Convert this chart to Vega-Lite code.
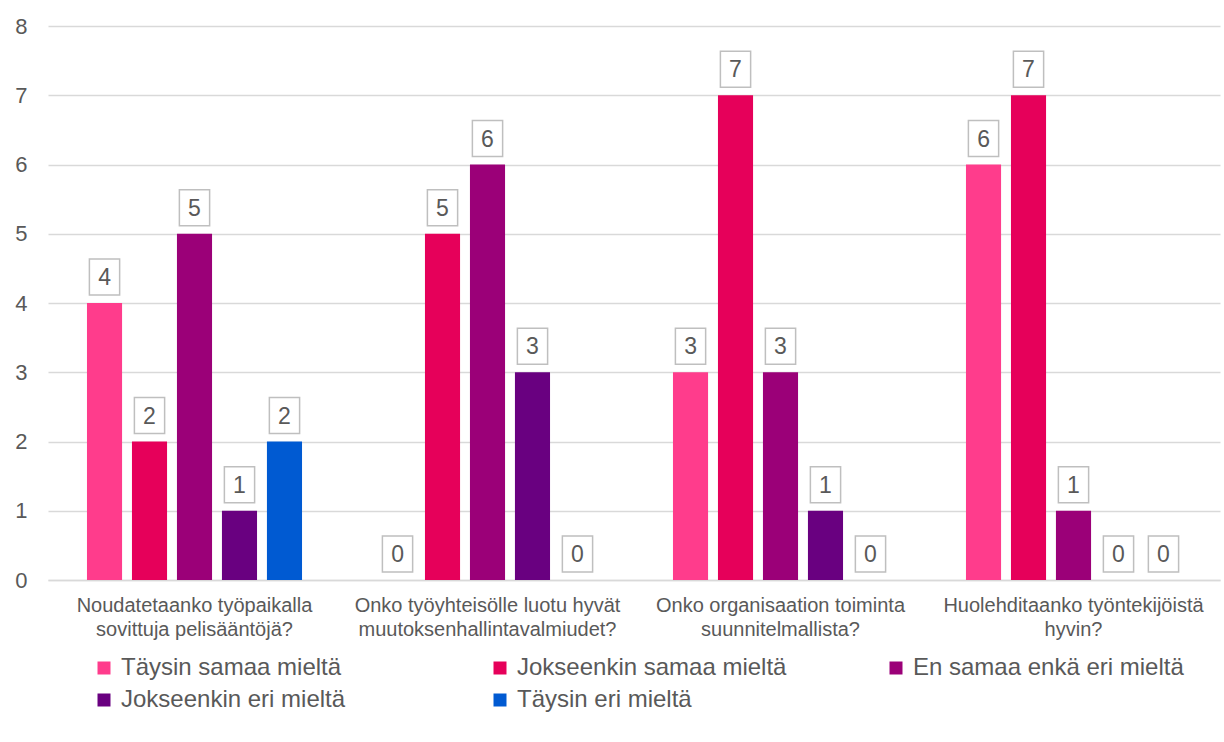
{
  "$schema": "https://vega.github.io/schema/vega-lite/v6.json",
  "width": 1172,
  "height": 554,
  "autosize": {"type": "none"},
  "padding": {"left": 48, "top": 26, "right": 4, "bottom": 162},
  "background": "white",
  "config": {
    "font": "Liberation Sans",
    "view": {"stroke": null},
    "axis": {"labelColor": "#595959", "labelFont": "Liberation Sans", "gridColor": "#d9d9d9", "domainColor": "#d9d9d9"}
  },
  "data": {
    "values": [
      {"kysymys": "Noudatetaanko työpaikalla sovittuja pelisääntöjä?", "vastaus": "Täysin samaa mieltä", "lkm": 4},
      {"kysymys": "Noudatetaanko työpaikalla sovittuja pelisääntöjä?", "vastaus": "Jokseenkin samaa mieltä", "lkm": 2},
      {"kysymys": "Noudatetaanko työpaikalla sovittuja pelisääntöjä?", "vastaus": "En samaa enkä eri mieltä", "lkm": 5},
      {"kysymys": "Noudatetaanko työpaikalla sovittuja pelisääntöjä?", "vastaus": "Jokseenkin eri mieltä", "lkm": 1},
      {"kysymys": "Noudatetaanko työpaikalla sovittuja pelisääntöjä?", "vastaus": "Täysin eri mieltä", "lkm": 2},
      {"kysymys": "Onko työyhteisölle luotu hyvät muutoksenhallintavalmiudet?", "vastaus": "Täysin samaa mieltä", "lkm": 0},
      {"kysymys": "Onko työyhteisölle luotu hyvät muutoksenhallintavalmiudet?", "vastaus": "Jokseenkin samaa mieltä", "lkm": 5},
      {"kysymys": "Onko työyhteisölle luotu hyvät muutoksenhallintavalmiudet?", "vastaus": "En samaa enkä eri mieltä", "lkm": 6},
      {"kysymys": "Onko työyhteisölle luotu hyvät muutoksenhallintavalmiudet?", "vastaus": "Jokseenkin eri mieltä", "lkm": 3},
      {"kysymys": "Onko työyhteisölle luotu hyvät muutoksenhallintavalmiudet?", "vastaus": "Täysin eri mieltä", "lkm": 0},
      {"kysymys": "Onko organisaation toiminta suunnitelmallista?", "vastaus": "Täysin samaa mieltä", "lkm": 3},
      {"kysymys": "Onko organisaation toiminta suunnitelmallista?", "vastaus": "Jokseenkin samaa mieltä", "lkm": 7},
      {"kysymys": "Onko organisaation toiminta suunnitelmallista?", "vastaus": "En samaa enkä eri mieltä", "lkm": 3},
      {"kysymys": "Onko organisaation toiminta suunnitelmallista?", "vastaus": "Jokseenkin eri mieltä", "lkm": 1},
      {"kysymys": "Onko organisaation toiminta suunnitelmallista?", "vastaus": "Täysin eri mieltä", "lkm": 0},
      {"kysymys": "Huolehditaanko työntekijöistä hyvin?", "vastaus": "Täysin samaa mieltä", "lkm": 6},
      {"kysymys": "Huolehditaanko työntekijöistä hyvin?", "vastaus": "Jokseenkin samaa mieltä", "lkm": 7},
      {"kysymys": "Huolehditaanko työntekijöistä hyvin?", "vastaus": "En samaa enkä eri mieltä", "lkm": 1},
      {"kysymys": "Huolehditaanko työntekijöistä hyvin?", "vastaus": "Jokseenkin eri mieltä", "lkm": 0},
      {"kysymys": "Huolehditaanko työntekijöistä hyvin?", "vastaus": "Täysin eri mieltä", "lkm": 0}
    ]
  },
  "encoding": {
    "x": {
      "field": "kysymys",
      "type": "nominal",
      "sort": null,
      "title": null,
      "scale": {"paddingInner": 0.266, "paddingOuter": 0.133},
      "axis": {
        "labelAngle": 0,
        "labelFontSize": 20,
        "labelLineHeight": 24.5,
        "labelPadding": 15,
        "tickSize": 0,
        "ticks": false,
        "domainWidth": 1.5,
        "labelBaseline": "top",
        "labelLimit": 400,
        "labelExpr": "split(replace(datum.label, regexp('(työpaikalla|hyvät|toiminta|työntekijöistä) '), '$1|'), '|')"
      }
    },
    "xOffset": {
      "field": "vastaus",
      "type": "nominal",
      "sort": null,
      "scale": {"paddingInner": 0.22, "paddingOuter": 0}
    },
    "y": {
      "field": "lkm",
      "type": "quantitative",
      "title": null,
      "scale": {"domain": [0, 8], "nice": false},
      "axis": {
        "values": [0, 1, 2, 3, 4, 5, 6, 7, 8],
        "labelFontSize": 22,
        "labelPadding": 21,
        "tickSize": 0,
        "ticks": false,
        "domain": false,
        "gridWidth": 1.5
      }
    }
  },
  "layer": [
    {
      "mark": {"type": "bar"},
      "encoding": {
        "color": {
          "field": "vastaus",
          "type": "nominal",
          "sort": null,
          "title": null,
          "scale": {
            "domain": ["Täysin samaa mieltä", "Jokseenkin samaa mieltä", "En samaa enkä eri mieltä", "Jokseenkin eri mieltä", "Täysin eri mieltä"],
            "range": ["#ff3c8c", "#e6005a", "#9b0078", "#690080", "#005ad2"]
          },
          "legend": {
            "orient": "none",
            "legendX": 44,
            "legendY": 630,
            "direction": "horizontal",
            "columns": 3,
            "gridAlign": "all",
            "columnPadding": 96,
            "rowPadding": 8,
            "padding": 0,
            "symbolType": "square",
            "symbolSize": 169,
            "symbolStrokeWidth": 0,
            "labelOffset": 5,
            "labelFontSize": 24,
            "labelColor": "#595959",
            "labelFont": "Liberation Sans",
            "labelLimit": 400
          }
        }
      }
    },
    {
      "mark": {
        "type": "point",
        "shape": "M-0.84,-1H0.84V1H-0.84Z",
        "size": 1296,
        "filled": false,
        "stroke": "#bfbfbf",
        "strokeWidth": 1.5,
        "fill": "white",
        "opacity": 1,
        "yOffset": -26
      }
    },
    {
      "mark": {
        "type": "text",
        "fontSize": 23,
        "color": "#595959",
        "baseline": "middle",
        "align": "center",
        "yOffset": -25
      },
      "encoding": {
        "text": {"field": "lkm", "type": "quantitative"}
      }
    }
  ]
}
